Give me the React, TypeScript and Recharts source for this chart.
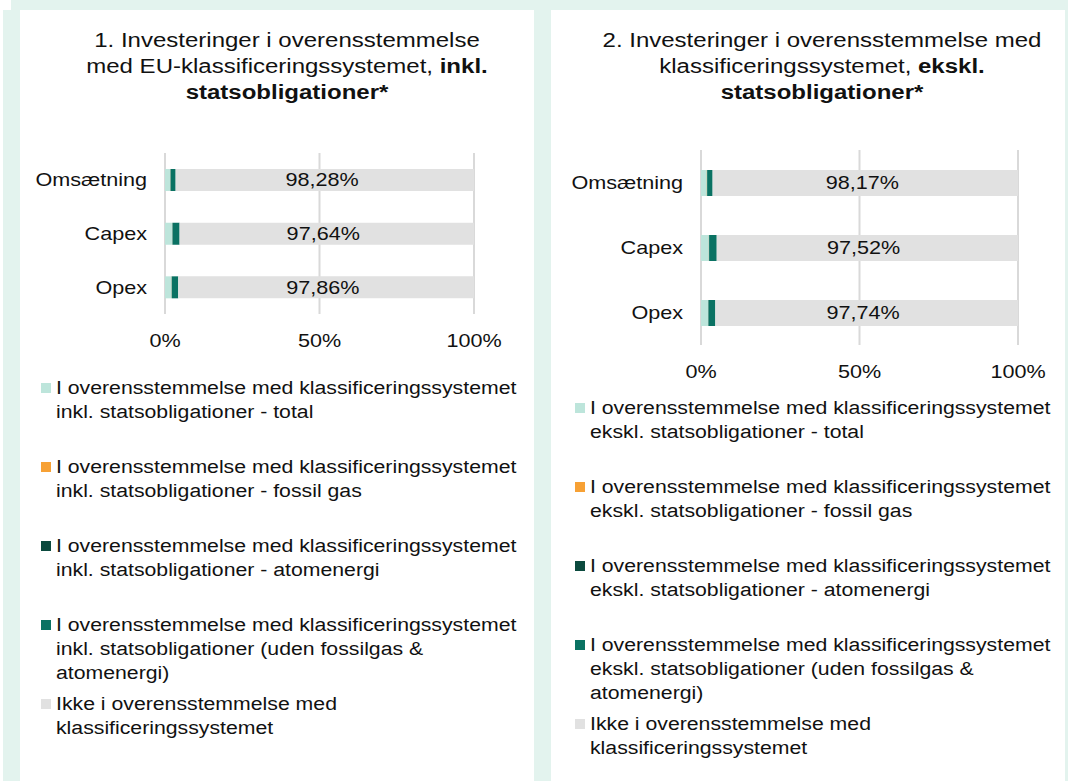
import React from 'react';
import { BarChart, Bar, XAxis, YAxis, CartesianGrid, LabelList } from 'recharts';

const categories = ['Omsætning', 'Capex', 'Opex'];
const ticks = [0, 50, 100];

// Diagram 1 - inkl. statsobligationer
const total1 = [1.72, 2.36, 2.14];
const fossil1 = [0.04, 0.03, 0.03];
const atom1 = [0.06, 0.05, 0.05];
const uden1 = [1.62, 2.28, 2.06];
const ikke1 = [98.28, 97.64, 97.86];

// Diagram 2 - ekskl. statsobligationer
const total2 = [1.83, 2.48, 2.26];
const fossil2 = [0.05, 0.03, 0.03];
const atom2 = [0.06, 0.05, 0.05];
const uden2 = [1.72, 2.4, 2.18];
const ikke2 = [98.17, 97.52, 97.74];

const legend1 = [
  'I overensstemmelse med klassificeringssystemet inkl. statsobligationer - total',
  'I overensstemmelse med klassificeringssystemet inkl. statsobligationer - fossil gas',
  'I overensstemmelse med klassificeringssystemet inkl. statsobligationer - atomenergi',
  'I overensstemmelse med klassificeringssystemet inkl. statsobligationer (uden fossilgas & atomenergi)',
  'Ikke i overensstemmelse med klassificeringssystemet',
];
const legend2 = [
  'I overensstemmelse med klassificeringssystemet ekskl. statsobligationer - total',
  'I overensstemmelse med klassificeringssystemet ekskl. statsobligationer - fossil gas',
  'I overensstemmelse med klassificeringssystemet ekskl. statsobligationer - atomenergi',
  'I overensstemmelse med klassificeringssystemet ekskl. statsobligationer (uden fossilgas & atomenergi)',
  'Ikke i overensstemmelse med klassificeringssystemet',
];

const COLORS = ['#bde5db', '#f7a135', '#0b4a3e', '#0a7263', '#e1e1e1'];
const FONT = '"Liberation Sans", Arial, sans-serif';
const MINT = '#e3f3ee';
const TEXT = '#111';
const SX = 1.2; // the original text is drawn a bit wide
const SX_LEGEND = 1.18;

const fmt = (v: number) => v.toFixed(2).replace('.', ',') + '%';

function buildRows(total: number[], fossil: number[], atom: number[], uden: number[], ikke: number[]) {
  return categories.map((name, i) => ({
    name,
    total: total[i],
    fossil: fossil[i],
    atom: atom[i],
    uden: uden[i],
    ikke: ikke[i],
  }));
}

const KEYS = ['total', 'fossil', 'atom', 'uden', 'ikke'];

const WideText = ({ x, y, anchor, dy, children }: any) => (
  <g transform={`translate(${x},${y})`}>
    <text transform={`scale(${SX},1)`} textAnchor={anchor} dy={dy} fontSize={18} fontFamily={FONT} fill={TEXT}>
      {children}
    </text>
  </g>
);

const YTick = (props: any) => <WideText x={props.x} y={props.y} anchor="end" dy="0.355em">{props.payload.value}</WideText>;
const XTick = (props: any) => <WideText x={props.x} y={props.y} anchor="middle" dy="0.71em">{`${props.payload.value}%`}</WideText>;

interface PanelChartProps {
  rows: any[];
  left: number;
  top: number;
  width: number;
  height: number;
  yWidth: number;
  margin: { top: number; right: number; bottom: number; left: number };
  barSize: number;
}

const PanelChart: React.FC<PanelChartProps> = ({ rows, left, top, width, height, yWidth, margin, barSize }) => {
  // label centred in the visible (clipped) part of the grey bar
  const renderLabel = (props: any) => {
    const { x, y, width: w, height: h, index } = props;
    const r = rows[index];
    const end = r.total + r.fossil + r.atom + r.uden + r.ikke;
    const visible = w - Math.max(0, end - 100) * (w / r.ikke);
    return <WideText x={x + visible / 2} y={y + h / 2} anchor="middle" dy="0.355em">{fmt(r.ikke)}</WideText>;
  };
  return (
    <div style={{ position: 'absolute', left, top }}>
      <BarChart width={width} height={height} data={rows} layout="vertical" margin={margin} barSize={barSize}>
        <CartesianGrid horizontal={false} stroke="#d9d9d9" strokeWidth={2} />
        <XAxis type="number" domain={[0, 100]} ticks={ticks} allowDataOverflow axisLine={false} tickLine={false}
          tickSize={0} tickMargin={20} height={40} tick={<XTick />} />
        <YAxis type="category" dataKey="name" width={yWidth} axisLine={false} tickLine={false}
          tickSize={0} tickMargin={18} tick={<YTick />} />
        {KEYS.map((k, i) => (
          <Bar key={k} dataKey={k} stackId="a" fill={COLORS[i]} isAnimationActive={false}>
            {k === 'ikke' && <LabelList dataKey="ikke" content={renderLabel} />}
          </Bar>
        ))}
      </BarChart>
    </div>
  );
};

const LegendBlock: React.FC<{ items: string[]; left: number; top: number }> = ({ items, left, top }) => (
  <div style={{ position: 'absolute', left, top, fontFamily: FONT, fontSize: 18, lineHeight: '24px', color: TEXT }}>
    {items.map((t, i) => (
      <div key={i} style={{ position: 'absolute', top: i * 79, left: 0, width: 500 }}>
        <span style={{ position: 'absolute', left: 0, top: 7, width: 10, height: 10, background: COLORS[i] }} />
        <div style={{ position: 'absolute', left: 15, top: 0, width: 396, transform: `scaleX(${SX_LEGEND})`, transformOrigin: 'left top' }}>
          {t}
        </div>
      </div>
    ))}
  </div>
);

const Title: React.FC<{ center: number; lines: React.ReactNode[] }> = ({ center, lines }) => (
  <div style={{
    position: 'absolute', left: center - 250, top: 27, width: 500, textAlign: 'center', fontFamily: FONT,
    fontSize: 20, lineHeight: '26px', color: TEXT, transform: `scaleX(${SX})`, transformOrigin: 'center top',
  }}>
    {lines.map((l, i) => <div key={i} style={{ whiteSpace: 'nowrap' }}>{l}</div>)}
  </div>
);

const App: React.FC = () => {
  const rows1 = buildRows(total1, fossil1, atom1, uden1, ikke1);
  const rows2 = buildRows(total2, fossil2, atom2, uden2, ikke2);
  return (
    <div style={{ position: 'absolute', left: 0, top: 0, width: 1068, height: 781, background: '#fff', overflow: 'hidden' }}>
      <div style={{ position: 'absolute', left: 11, top: 0, width: 1057, height: 10, background: MINT }} />
      <div style={{ position: 'absolute', left: 3, top: 10, width: 17, height: 771, background: MINT }} />
      <div style={{ position: 'absolute', left: 534, top: 10, width: 17, height: 771, background: MINT }} />
      <div style={{ position: 'absolute', left: 1065, top: 10, width: 3, height: 771, background: MINT }} />

      <Title center={287} lines={[
        '1. Investeringer i overensstemmelse',
        <>med EU-klassificeringssystemet, <b>inkl.</b></>,
        <b>statsobligationer*</b>,
      ]} />
      <Title center={822} lines={[
        '2. Investeringer i overensstemmelse med',
        <>klassificeringssystemet, <b>ekskl.</b></>,
        <b>statsobligationer*</b>,
      ]} />

      <PanelChart rows={rows1} left={20} top={140} width={514} height={230} yWidth={145}
        margin={{ top: 13, right: 60, bottom: 16, left: 0 }} barSize={22} />
      <PanelChart rows={rows2} left={551} top={140} width={514} height={260} yWidth={150}
        margin={{ top: 10, right: 47, bottom: 15, left: 0 }} barSize={26} />

      <LegendBlock items={legend1} left={41} top={376} />
      <LegendBlock items={legend2} left={575} top={396} />
    </div>
  );
};

export default App;
